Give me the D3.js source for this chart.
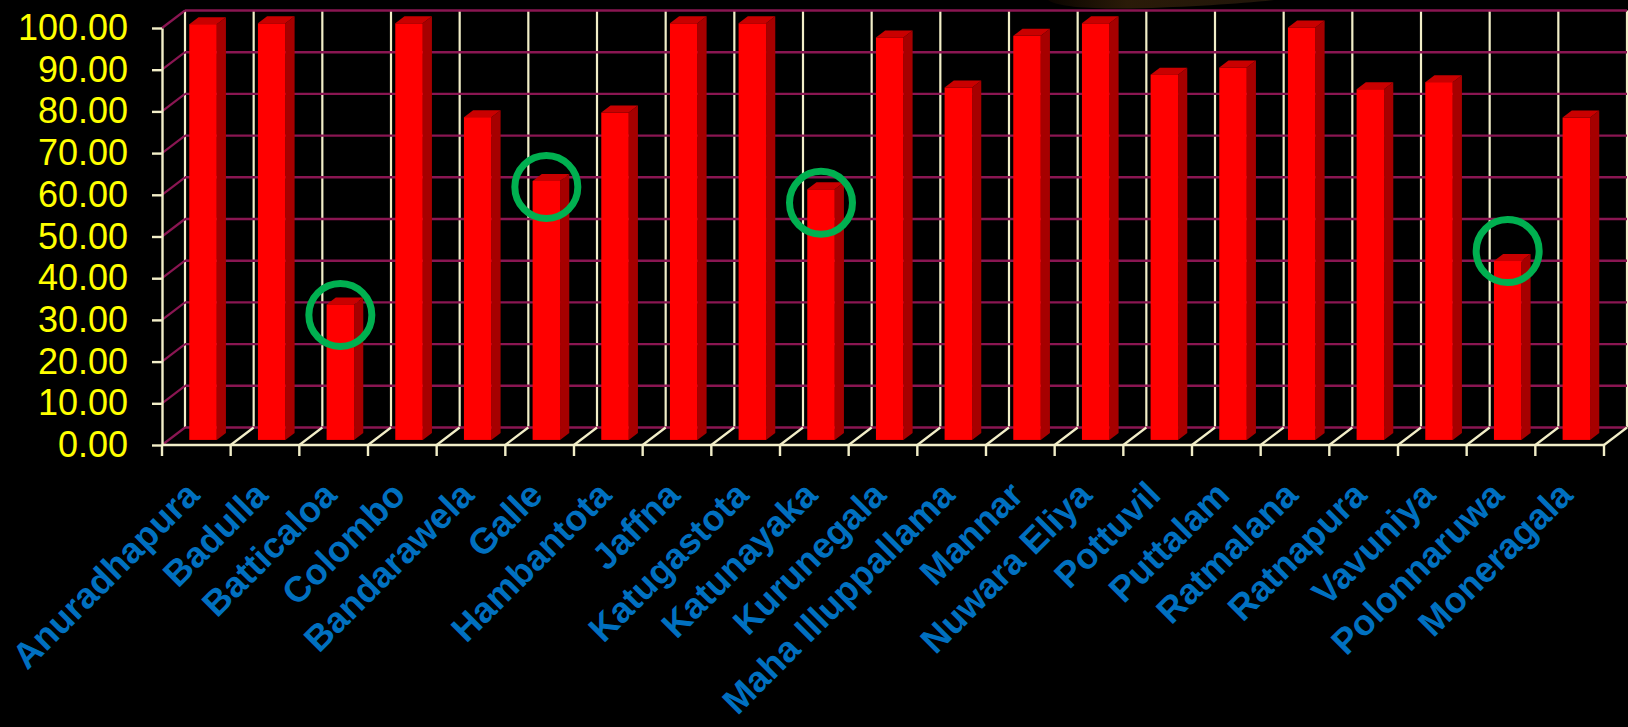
<!DOCTYPE html>
<html>
<head>
<meta charset="utf-8">
<script src="https://cdn.jsdelivr.net/npm/d3@7"></script>
<style>
  html, body { margin: 0; padding: 0; background: #000; }
  svg { display: block; }
</style>
</head>
<body>
<svg id="chart" width="1628" height="727"></svg>
<script>
// Stations and their percentage values
const categories = [
  "Anuradhapura", "Badulla", "Batticaloa", "Colombo", "Bandarawela", "Galle",
  "Hambantota", "Jaffna", "Katugastota", "Katunayaka", "Kurunegala",
  "Maha Illuppallama", "Mannar", "Nuwara Eliya", "Pottuvil", "Puttalam",
  "Ratmalana", "Ratnapura", "Vavuniya", "Polonnaruwa", "Moneragala"
];
const values = [
  99.7, 99.9, 32.5, 99.9, 77.4, 62.1,
  78.5, 99.9, 99.9, 60.1, 96.5,
  84.5, 96.9, 99.9, 87.6, 89.3,
  98.9, 84.1, 85.8, 42.9, 77.3
];
const yTicks = [0, 10, 20, 30, 40, 50, 60, 70, 80, 90, 100];

// Stations ringed in green, with the level (in chart units) of each ring's centre
const ringedStations = ["Batticaloa", "Galle", "Katunayaka", "Polonnaruwa"];
const ringLevels = [31.2, 61.9, 58.1, 46.5];

const W = 1628, H = 727;
const margin = { top: 28, right: 24, bottom: 282, left: 162 };
const depth = { dx: 23, dy: -17.5 };          // wall depth offset
const barDepth = { from: 0.29, to: 0.69 };    // bar slab position within the depth

const CREAM = "#F2EEC8", MAROON = "#8A1652";

const svg = d3.select("#chart");
svg.append("rect").attr("width", W).attr("height", H).attr("fill", "#000");

// faint decorative glow along the top edge
const defs = svg.append("defs");
const grad = defs.append("linearGradient").attr("id", "glow").attr("x1", "0").attr("x2", "1");
grad.append("stop").attr("offset", "0").attr("stop-color", "#0a0500");
grad.append("stop").attr("offset", "0.35").attr("stop-color", "#2a1b08");
grad.append("stop").attr("offset", "1").attr("stop-color", "#20160a");
svg.append("path")
  .attr("d", "M1048,0 C1058,7 1090,9 1130,8.5 C1190,7 1240,3.5 1274,0 Z")
  .attr("fill", "url(#glow)");

const x = d3.scaleBand().domain(categories)
  .range([margin.left, W - margin.right]).paddingInner(0).paddingOuter(0);
const y = d3.scaleLinear().domain([0, 100]).range([H - margin.bottom, margin.top]);

const x0 = margin.left, x1 = W - margin.right, y0 = y(0);
const step = x.step();

// ---- back wall ----
const back = svg.append("g");
// vertical dividers on the back wall
back.selectAll("line.v").data(d3.range(categories.length + 1)).join("line")
  .attr("x1", k => x0 + k * step + depth.dx).attr("x2", k => x0 + k * step + depth.dx)
  .attr("y1", y(100) + depth.dy).attr("y2", y0 + depth.dy)
  .attr("stroke", CREAM).attr("stroke-width", 2.2);
// horizontal gridlines
back.selectAll("line.h").data(yTicks).join("line")
  .attr("x1", x0 + depth.dx).attr("x2", x1 + depth.dx)
  .attr("y1", d => y(d) + depth.dy).attr("y2", d => y(d) + depth.dy)
  .attr("stroke", MAROON).attr("stroke-width", 2.4);

// ---- left side wall gridlines ----
svg.append("g").selectAll("line").data(yTicks).join("line")
  .attr("x1", x0).attr("y1", d => y(d))
  .attr("x2", x0 + depth.dx).attr("y2", d => y(d) + depth.dy)
  .attr("stroke", MAROON).attr("stroke-width", 2.2);

// ---- floor dividers ----
svg.append("g").selectAll("line").data(d3.range(1, categories.length + 1)).join("line")
  .attr("x1", k => x0 + k * step).attr("y1", y0)
  .attr("x2", k => x0 + k * step + depth.dx).attr("y2", y0 + depth.dy)
  .attr("stroke", CREAM).attr("stroke-width", 2.2);

// ---- bars ----
const bw = step * 0.4;
const fdx = depth.dx * barDepth.from, fdy = depth.dy * barDepth.from;
const sdx = depth.dx * (barDepth.to - barDepth.from), sdy = depth.dy * (barDepth.to - barDepth.from);
const data = categories.map((c, i) => ({ c, v: values[i] }));

const bars = svg.append("g").selectAll("g").data(data).join("g");
bars.each(function (d) {
  const g = d3.select(this);
  const L = x(d.c) + (step - bw) / 2 + fdx;
  const R = L + bw;
  const T = y(d.v) + fdy;
  const B = y0 + fdy;
  g.append("polygon")
    .attr("points", [[R, T], [R + sdx, T + sdy], [R + sdx, B + sdy], [R, B]].join(" "))
    .attr("fill", "#A60000");
  g.append("polygon")
    .attr("points", [[L, T], [L + sdx, T + sdy], [R + sdx, T + sdy], [R, T]].join(" "))
    .attr("fill", "#C90000");
  g.append("rect")
    .attr("x", L).attr("y", T).attr("width", bw).attr("height", B - T)
    .attr("fill", "#FF0000");
});

// ---- y axis ----
const yAxis = svg.append("g")
  .attr("transform", `translate(${x0},0)`)
  .call(d3.axisLeft(y).tickValues(yTicks).tickFormat(d3.format(".2f"))
    .tickSize(10).tickSizeOuter(0).tickPadding(24));
yAxis.select(".domain").attr("stroke", CREAM).attr("stroke-width", 2.4);
yAxis.selectAll(".tick line").attr("stroke", CREAM).attr("stroke-width", 2.4);
yAxis.selectAll(".tick text")
  .attr("fill", "#FFFF00")
  .style("font-family", "'Liberation Sans', Arial, sans-serif")
  .style("font-size", "36px");

// ---- x axis (front floor edge) ----
const xAxisG = svg.append("g");
xAxisG.append("line")
  .attr("x1", x0).attr("x2", x1).attr("y1", y0).attr("y2", y0)
  .attr("stroke", CREAM).attr("stroke-width", 2.4);
xAxisG.selectAll("line.t").data(d3.range(categories.length + 1)).join("line")
  .attr("x1", k => x0 + k * step).attr("x2", k => x0 + k * step)
  .attr("y1", y0).attr("y2", y0 + 11)
  .attr("stroke", CREAM).attr("stroke-width", 2.4);

xAxisG.selectAll("text").data(categories).join("text")
  .attr("transform", c => `translate(${x(c) + step / 2 + 5},${y0 + 52}) rotate(-45)`)
  .attr("text-anchor", "end")
  .attr("fill", "#0070C0")
  .style("font-family", "'Liberation Sans', Arial, sans-serif")
  .style("font-weight", "bold")
  .style("font-size", "36px")
  .text(c => c);

// ---- green rings ----
svg.append("g").selectAll("circle").data(ringedStations).join("circle")
  .attr("cx", (c) => x(c) + step / 2 + fdx)
  .attr("cy", (c, i) => y(ringLevels[i]))
  .attr("r", 31.5)
  .attr("fill", "none")
  .attr("stroke", "#00B050")
  .attr("stroke-width", 7);
</script>
</body>
</html>
